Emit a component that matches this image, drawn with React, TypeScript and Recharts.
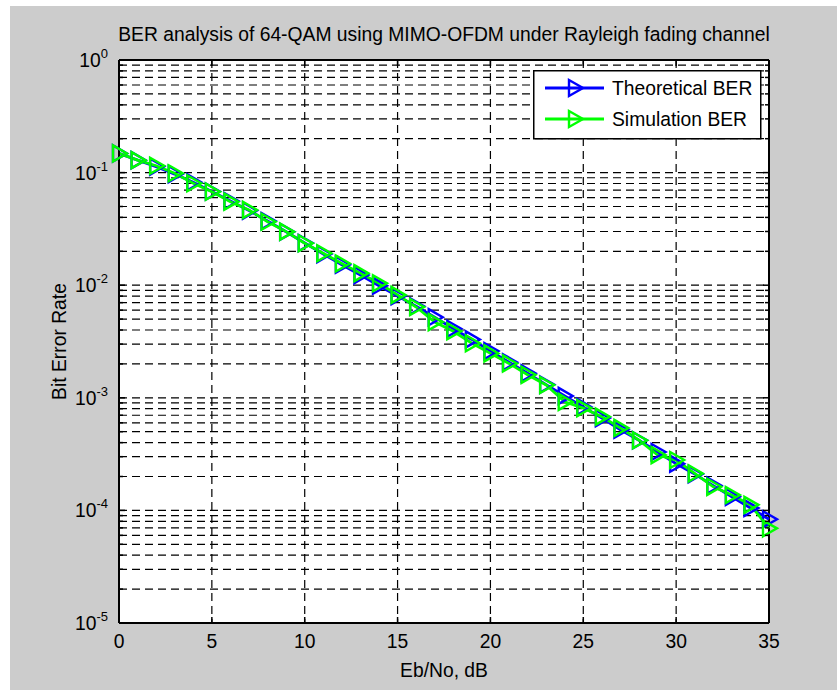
import { CartesianGrid, Line, LineChart, ReferenceLine, XAxis, YAxis } from "recharts";

const ebNo = [
  0, 1, 2, 3, 4, 5, 6, 7, 8, 9, 10, 11, 12, 13, 14, 15, 16, 17,
  18, 19, 20, 21, 22, 23, 24, 25, 26, 27, 28, 29, 30, 31, 32, 33, 34, 35,
];

const theoreticalBer = [
  0.148, 0.129, 0.113, 0.097, 0.082, 0.068, 0.056, 0.046, 0.0372, 0.0298,
  0.0237, 0.0189, 0.0152, 0.0123, 0.0099, 0.008, 0.0065, 0.0052, 0.0041,
  0.0033, 0.0026, 0.00207, 0.00165, 0.00131, 0.00104, 0.00083, 0.00066,
  0.00052, 0.00042, 0.00033, 0.00026, 0.00021, 0.000166, 0.000132, 0.000105,
  0.0000835,
];

const simulationBer = [
  0.148, 0.129, 0.115, 0.0986, 0.0804, 0.0677, 0.0552, 0.0466, 0.0366, 0.0299,
  0.0236, 0.0192, 0.0156, 0.0128, 0.0104, 0.0082, 0.0064, 0.0047, 0.0039,
  0.00305, 0.00248, 0.00202, 0.0016, 0.0013, 0.00092, 0.00081, 0.00068,
  0.00054, 0.00042, 0.00031, 0.00028, 0.000213, 0.000162, 0.000137, 0.000112,
  0.0000693,
];

const seriesNames = ["Theoretical BER", "Simulation BER"];
const seriesColors = ["#0000ff", "#00ff00"];

const xTicks = [0, 5, 10, 15, 20, 25, 30, 35];
const decades = [-5, -4, -3, -2, -1, 0];
const minorSteps = [1, 2, 3, 4, 5, 6, 7, 8, 9];

const yTicks: number[] = [];
decades.forEach((d) => {
  if (d === 0) {
    yTicks.push(1);
    return;
  }
  minorSteps.forEach((m) => yTicks.push(m * Math.pow(10, d)));
});

const data = ebNo.map((x, i) => ({
  x,
  theory: theoreticalBer[i],
  sim: simulationBer[i],
}));

const W = 827;
const H = 684;
const PLOT_LEFT = 109;
const PLOT_RIGHT = 759;
const PLOT_TOP = 54;
const PLOT_BOTTOM = 617;
const FONT = "'Liberation Sans', Arial, Helvetica, sans-serif";
const FS = 19.3;

const triPath = (cx: number, cy: number) =>
  `M${cx - 6},${cy - 8}L${cx - 6},${cy + 8}L${cx + 8},${cy}Z`;

const makeDot = (color: string) => (props: any) => {
  const { cx, cy, index } = props;
  if (cx == null || cy == null) return <g key={`e${index}`} />;
  return (
    <path
      key={`d${index}`}
      d={triPath(cx, cy)}
      fill="none"
      stroke={color}
      strokeWidth={2.4}
    />
  );
};

const YTick = (props: any) => {
  const { y, payload } = props;
  const lg = Math.log10(payload.value);
  const exp = Math.round(lg);
  const major = Math.abs(lg - exp) < 1e-6;
  const len = major ? 6 : 4;
  return (
    <g>
      <line x1={PLOT_LEFT} x2={PLOT_LEFT + len} y1={y} y2={y} stroke="#000" strokeWidth={1.5} />
      <line x1={PLOT_RIGHT - len} x2={PLOT_RIGHT} y1={y} y2={y} stroke="#000" strokeWidth={1.5} />
      {major && (
        <text x={PLOT_LEFT - 11} y={y + 7} textAnchor="end" fontSize={FS} fill="#000" fontFamily={FONT}>
          10
          <tspan dy={-9} fontSize={13}>
            {exp}
          </tspan>
        </text>
      )}
    </g>
  );
};

const XTick = (props: any) => {
  const { x, payload } = props;
  return (
    <g>
      <line x1={x} x2={x} y1={PLOT_BOTTOM} y2={PLOT_BOTTOM - 6} stroke="#000" strokeWidth={1.5} />
      <line x1={x} x2={x} y1={PLOT_TOP} y2={PLOT_TOP + 6} stroke="#000" strokeWidth={1.5} />
      <text x={x} y={PLOT_BOTTOM + 25} textAnchor="middle" fontSize={FS} fill="#000" fontFamily={FONT}>
        {payload.value}
      </text>
    </g>
  );
};

const LegendBox = () => (
  <svg
    width={229}
    height={70}
    style={{ position: "absolute", left: 523, top: 64 }}
  >
    <rect x={0.75} y={0.75} width={227} height={68} fill="#fff" stroke="#000" strokeWidth={1.5} />
    {seriesNames.map((name, i) => {
      const y = 18 + 31 * i;
      return (
        <g key={name}>
          <line x1={12} x2={71} y1={y} y2={y} stroke={seriesColors[i]} strokeWidth={2.8} />
          <path d={triPath(42, y)} fill="none" stroke={seriesColors[i]} strokeWidth={2.4} />
          <text x={79} y={y + 7} fontSize={FS} fill="#000" fontFamily={FONT}>
            {name}
          </text>
        </g>
      );
    })}
  </svg>
);

export default function App() {
  return (
    <div
      style={{
        position: "absolute",
        left: 10,
        top: 6,
        width: W,
        height: H,
        background: "#cccccc",
        fontFamily: FONT,
      }}
    >
      <div
        style={{
          position: "absolute",
          left: PLOT_LEFT - 50,
          width: PLOT_RIGHT - PLOT_LEFT + 100,
          top: 19,
          fontSize: FS,
          lineHeight: "19px",
          textAlign: "center",
          color: "#000",
          whiteSpace: "nowrap",
        }}
      >
        BER analysis of 64-QAM using MIMO-OFDM under Rayleigh fading channel
      </div>
      <div style={{ position: "absolute", left: 0, top: 0 }}>
        <LineChart
          width={W}
          height={H}
          data={data}
          margin={{ top: PLOT_TOP, right: W - PLOT_RIGHT, left: 0, bottom: 0 }}
        >
          <CartesianGrid
            stroke="#000"
            strokeDasharray="8 5"
            strokeWidth={1.2}
            fill="#fff"
            fillOpacity={1}
          />
          <XAxis
            dataKey="x"
            type="number"
            domain={[0, 35]}
            ticks={xTicks}
            interval={0}
            height={H - PLOT_BOTTOM}
            tickLine={false}
            axisLine={{ stroke: "#000", strokeWidth: 2 }}
            tick={<XTick />}
            label={() => (
              <text
                x={(PLOT_LEFT + PLOT_RIGHT) / 2}
                y={671}
                textAnchor="middle"
                fontSize={FS}
                fill="#000"
                fontFamily={FONT}
              >
                Eb/No, dB
              </text>
            )}
          />
          <YAxis
            type="number"
            scale="log"
            domain={[1e-5, 1]}
            allowDataOverflow
            ticks={yTicks}
            interval={0}
            width={PLOT_LEFT}
            tickLine={false}
            axisLine={{ stroke: "#000", strokeWidth: 2 }}
            tick={<YTick />}
            label={() => (
              <text
                x={56}
                y={(PLOT_TOP + PLOT_BOTTOM) / 2}
                textAnchor="middle"
                fontSize={FS}
                fill="#000"
                fontFamily={FONT}
                transform={`rotate(-90, 56, ${(PLOT_TOP + PLOT_BOTTOM) / 2})`}
              >
                Bit Error Rate
              </text>
            )}
          />
          <ReferenceLine y={1} stroke="#000" strokeWidth={2} />
          <ReferenceLine x={35} stroke="#000" strokeWidth={2} />
          <Line
            dataKey="theory"
            name={seriesNames[0]}
            stroke={seriesColors[0]}
            strokeWidth={2.8}
            dot={makeDot(seriesColors[0])}
            isAnimationActive={false}
          />
          <Line
            dataKey="sim"
            name={seriesNames[1]}
            stroke={seriesColors[1]}
            strokeWidth={2.8}
            dot={makeDot(seriesColors[1])}
            isAnimationActive={false}
          />
        </LineChart>
      </div>
      <LegendBox />
    </div>
  );
}
